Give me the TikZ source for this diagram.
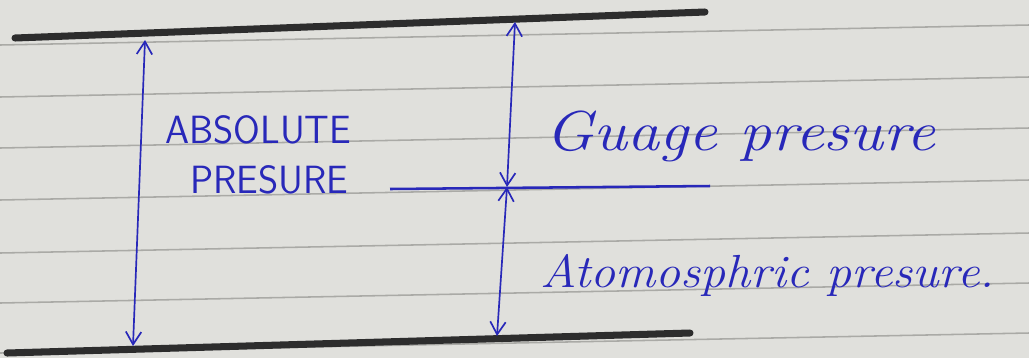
\documentclass[tikz,border=0pt]{standalone}
\usetikzlibrary{arrows.meta}
\definecolor{paper}{RGB}{224,224,220}
\definecolor{rule}{RGB}{170,170,166}
\definecolor{ink}{RGB}{40,40,185}
\definecolor{marker}{RGB}{45,45,45}
\begin{document}
\begin{tikzpicture}[x=0.025cm,y=-0.025cm,
  ruling/.style={draw=rule,line width=1.1pt},
  thick line/.style={draw=marker,line width=5pt,line cap=round},
  midline/.style={draw=ink,line width=1.8pt},
  dimarrow/.style={draw=ink,line width=1.2pt,{Straight Barb[length=9pt,width=11pt]}-{Straight Barb[length=9pt,width=11pt]}},
  caps/.style={text=ink,font=\sffamily\fontsize{28}{32}\selectfont,anchor=base west,inner sep=0pt},
  hand/.style={text=ink,font=\itshape\fontsize{40}{44}\selectfont,anchor=base west,inner sep=0pt}]
\useasboundingbox (0,0) rectangle (1029,358);
\fill[paper] (0,0) rectangle (1029,358);
% notebook ruling
\foreach \yy in {45,97,148,200,253,303,353}
  \draw[ruling] (0,\yy) -- (1029,\yy-20);
% reference lines
\coordinate (topL) at (15,38);
\coordinate (topR) at (705,12);
\coordinate (botL) at (7,353);
\coordinate (botR) at (690,333);
\coordinate (midL) at (390,189);
\coordinate (midR) at (710,186);
\draw[thick line] (topL) -- (topR);
\draw[thick line] (botL) -- (botR);
\draw[midline] (midL) -- (midR);
% arrows
\coordinate (a1) at (145,40);
\coordinate (a2) at (133,346);
\coordinate (b1) at (515,22);
\coordinate (b2) at (507,187);
\coordinate (b3) at (497,336);
\draw[dimarrow] (a1) -- (a2);
\draw[dimarrow] (b1) -- (b2);
\draw[dimarrow] (b2) -- (b3);
% labels
\node[caps] (abs1) at (165,143) {\scalebox{0.98}[1]{ABSOLUTE}};
\node[caps] (abs2) at (190,193) {\scalebox{0.98}[1]{PRESURE}};
\node[hand] (gauge) at (545,150) {\scalebox{1.14}[1]{Guage presure}};
\node[hand,font=\itshape\fontsize{33}{38}\selectfont] (atm) at (540,287) {\scalebox{1.08}[1]{Atomosphric presure.}};
\end{tikzpicture}
\end{document}
